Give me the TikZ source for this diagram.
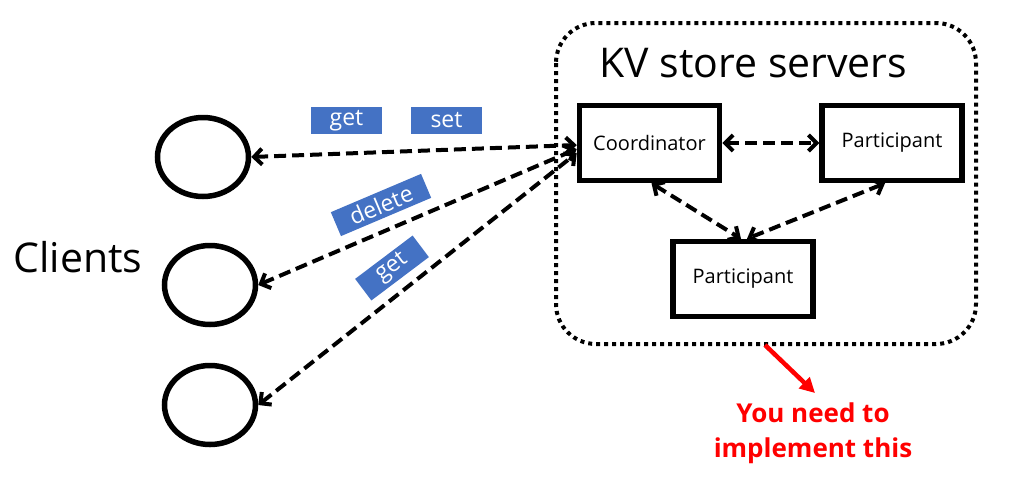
\documentclass[tikz,border=0pt]{standalone}
\usepackage{fontspec}
\setmainfont{Open Sans}
\usetikzlibrary{shapes.geometric,arrows.meta}
\definecolor{tagblue}{HTML}{4472C4}
\definecolor{warnred}{HTML}{FF0000}
\tikzset{
  client/.style={draw,line width=5.5pt,ellipse,minimum width=91pt,minimum height=79pt,inner sep=0pt},
  server/.style={draw,line width=5.5pt,minimum width=140pt,minimum height=75pt,inner sep=0pt,font=\fontsize{20}{22}\selectfont},
  link/.style={line width=4pt,dash pattern=on 12pt off 6pt,{Straight Barb[length=8pt,width=16pt,line width=4pt]}-{Straight Barb[length=8pt,width=16pt,line width=4pt]}},
  tag/.style={fill=tagblue,text=white,inner sep=0pt,font=\fontsize{23}{24}\selectfont},
  big/.style={font=\fontsize{41}{44}\selectfont},
}
\begin{document}
\begin{tikzpicture}[x=1pt,y=-1pt]
\useasboundingbox (0,0) rectangle (1014,485);
% container
\draw[line width=4pt,dash pattern=on 4pt off 4pt,rounded corners=40pt] (556,23) rectangle (976,344);
\node[big,anchor=base west] (title) at (596,77) {KV store servers};
% servers
\node[server] (coord) at (649.5,143) {Coordinator};
\node[server] (p1) at (892,143) {Participant};
\node[server] (p2) at (743,279) {Participant};
% clients
\node[client] (c1) at (203,157) {};
\node[client] (c2) at (210,285) {};
\node[client] (c3) at (210,405) {};
\node[big,anchor=base west] (clients) at (10,272) {Clients};
% links
\draw[link] (c1.east) -- ([yshift=-2pt]coord.west);
\draw[link] (c2.east) -- ([yshift=-6pt]coord.west);
\draw[link] (c3.east) -- ([yshift=-10pt]coord.west);
\draw[link] (coord.east) -- (p1.west);
\draw[link] ([xshift=2pt]coord.south) -- ([xshift=-2pt]p2.north);
\draw[link] ([xshift=-7pt]p1.south) -- ([xshift=4pt]p2.north);
% tags
\node[tag,minimum width=71pt,minimum height=27pt] (t1) at (346.5,120.5) {get};
\node[tag,minimum width=71pt,minimum height=27pt] (t2) at (446.5,120.5) {set};
\node[tag,minimum width=98pt,minimum height=26pt,rotate=23] (t3) at (381,205) {delete};
\node[tag,minimum width=72pt,minimum height=27pt,rotate=37] (t4) at (392,268) {get};
% note
\node[text=warnred,font=\fontsize{26}{35}\selectfont\bfseries,align=center] (note) at (813,433) {You need to\\implement this};
\coordinate (nstart) at (765,345);
\draw[warnred,line width=4.5pt,-{Triangle[length=15pt,width=15pt]}] (nstart) -- (815,393);
\end{tikzpicture}
\end{document}
